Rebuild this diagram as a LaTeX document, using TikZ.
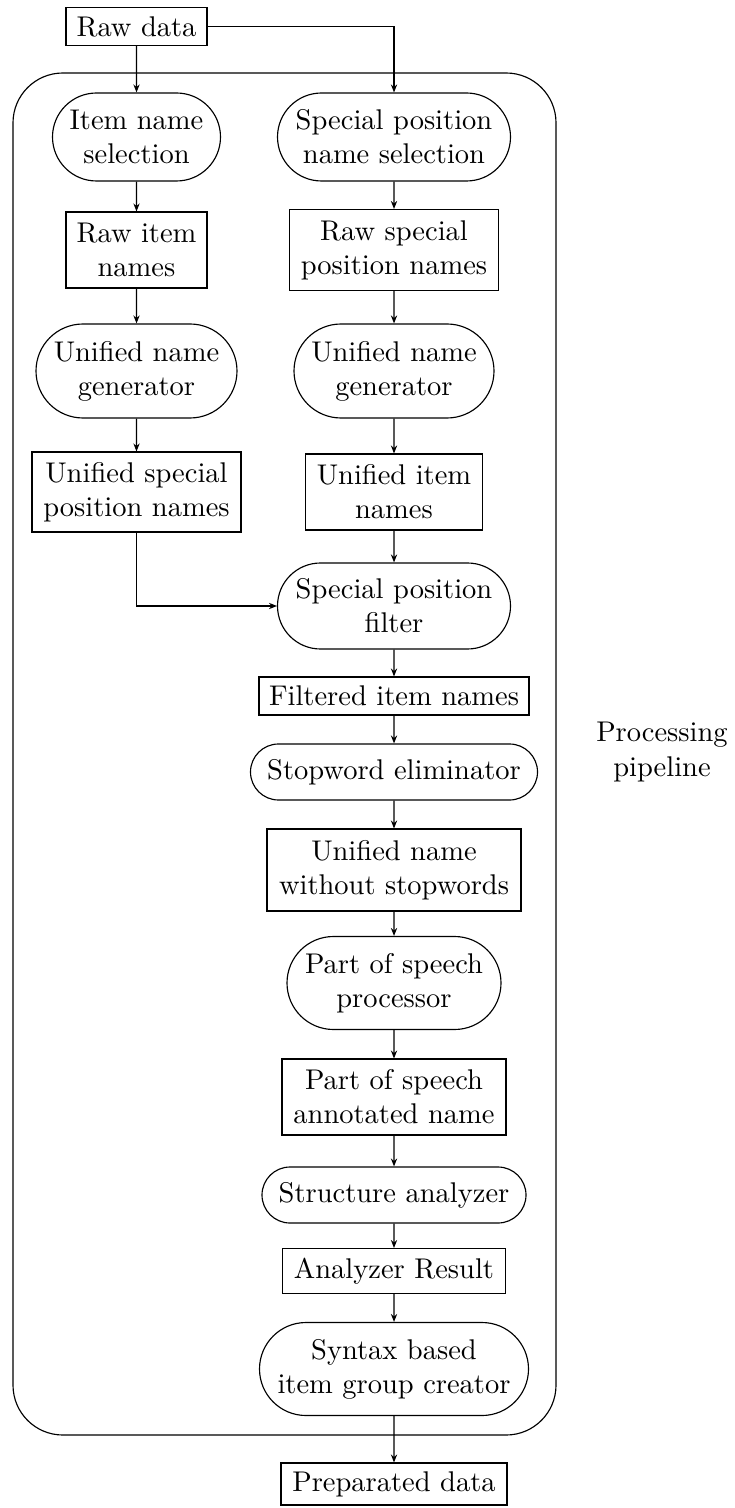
\documentclass[tikz,border=0pt]{standalone}
\usetikzlibrary{shapes.misc,arrows.meta}
\newdimen\pxu
\pxu=0.35088pt
\tikzset{
  box/.style={draw, rectangle, align=center, inner sep=0pt},
  proc/.style={draw, rounded rectangle, align=center, inner sep=0pt},
  flow/.style={-{Stealth[length=2.8pt,width=2.2pt]}},
  frame/.style={draw, rectangle, rounded corners=17.5pt},
}
\begin{document}
\begin{tikzpicture}[x=0.35088pt, y=-0.35088pt]
\useasboundingbox (0,0) rectangle (734,1508);

% container of the whole pipeline
\node[frame, minimum width={543*\pxu}, minimum height={1362*\pxu}] (pipeline) at (284.5,754) {};
\node[align=center] (pipelabel) at (662,752) {Processing\\pipeline};

% input
\node[box, minimum width={141*\pxu}, minimum height={38*\pxu}] (raw) at (136.5,26.5) {Raw data};

% left branch
\node[proc, minimum width={168*\pxu}, minimum height={88*\pxu}] (itemsel) at (136.5,137) {Item name\\selection};
\node[box, minimum width={141*\pxu}, minimum height={76*\pxu}] (rawitem) at (136.5,250) {Raw item\\names};
\node[proc, minimum width={201*\pxu}, minimum height={94*\pxu}] (ungl) at (136.5,371) {Unified name\\generator};
\node[box, minimum width={209*\pxu}, minimum height={80*\pxu}] (usp) at (136.5,492) {Unified special\\position names};

% right branch
\node[proc, minimum width={233*\pxu}, minimum height={88*\pxu}] (specsel) at (394,137) {Special position\\name selection};
\node[box, minimum width={209*\pxu}, minimum height={81*\pxu}] (rawspec) at (394,250) {Raw special\\position names};
\node[proc, minimum width={200*\pxu}, minimum height={94*\pxu}] (ungr) at (394,371) {Unified name\\generator};
\node[box, minimum width={177*\pxu}, minimum height={76*\pxu}] (uitem) at (394,492) {Unified item\\names};

% main chain
\node[proc, minimum width={233*\pxu}, minimum height={86*\pxu}] (filter) at (394,606) {Special position\\filter};
\node[box, minimum width={270*\pxu}, minimum height={38*\pxu}] (filtered) at (394,696) {Filtered item names};
\node[proc, minimum width={287*\pxu}, minimum height={56*\pxu}] (stop) at (394,772) {Stopword eliminator};
\node[box, minimum width={254*\pxu}, minimum height={82*\pxu}] (nostop) at (394,870) {Unified name\\without stopwords};
\node[proc, minimum width={214*\pxu}, minimum height={93*\pxu}] (pos) at (394,983) {Part of speech\\processor};
\node[box, minimum width={224*\pxu}, minimum height={76*\pxu}] (posann) at (394,1097) {Part of speech\\annotated name};
\node[proc, minimum width={264*\pxu}, minimum height={56*\pxu}] (struct) at (394,1195) {Structure analyzer};
\node[box, minimum width={223*\pxu}, minimum height={45*\pxu}] (result) at (394,1271) {Analyzer Result};
\node[proc, minimum width={269*\pxu}, minimum height={93*\pxu}] (group) at (394,1369) {Syntax based\\item group creator};
\node[box, minimum width={226*\pxu}, minimum height={42*\pxu}] (prepared) at (394,1484) {Preparated data};

% connectors
\draw[flow] (raw) -- (itemsel);
\draw[flow] (raw.east) -| (specsel.north);
\draw[flow] (itemsel) -- (rawitem);
\draw[flow] (rawitem) -- (ungl);
\draw[flow] (ungl) -- (usp);
\draw[flow] (specsel) -- (rawspec);
\draw[flow] (rawspec) -- (ungr);
\draw[flow] (ungr) -- (uitem);
\draw[flow] (uitem) -- (filter);
\draw[flow] (usp.south) |- (filter.west);
\draw[flow] (filter) -- (filtered);
\draw[flow] (filtered) -- (stop);
\draw[flow] (stop) -- (nostop);
\draw[flow] (nostop) -- (pos);
\draw[flow] (pos) -- (posann);
\draw[flow] (posann) -- (struct);
\draw[flow] (struct) -- (result);
\draw[flow] (result) -- (group);
\draw[flow] (group) -- (prepared);
\end{tikzpicture}
\end{document}
